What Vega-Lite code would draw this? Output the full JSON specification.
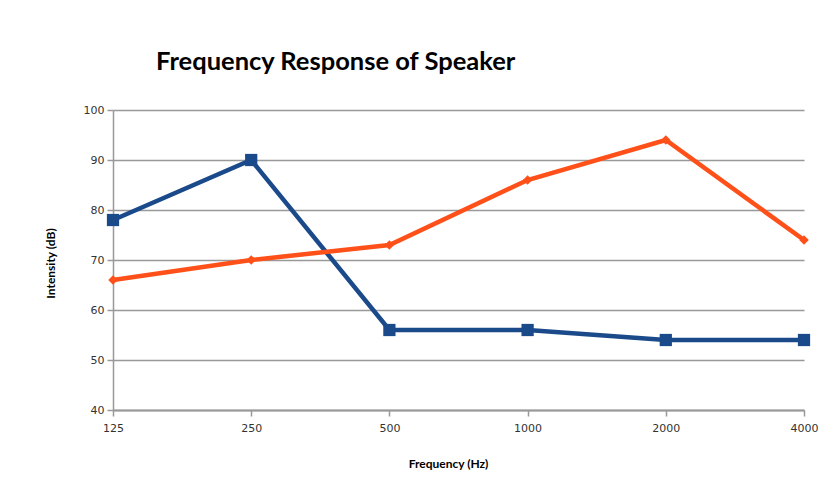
{
  "$schema": "https://vega.github.io/schema/vega-lite/v6.json",
  "width": 691,
  "height": 300,
  "autosize": {"type": "none"},
  "padding": {"left": 113, "top": 110, "right": 31, "bottom": 82},
  "background": "white",
  "title": {
    "text": "Frequency Response of Speaker",
    "anchor": "start",
    "dx": 112,
    "offset": 29,
    "font": "Lato",
    "fontSize": 25.5,
    "fontWeight": "bold",
    "color": "#000000"
  },
  "data": {
    "values": [
      {"freq": 125, "series": "A", "db": 78},
      {"freq": 250, "series": "A", "db": 90},
      {"freq": 500, "series": "A", "db": 56},
      {"freq": 1000, "series": "A", "db": 56},
      {"freq": 2000, "series": "A", "db": 54},
      {"freq": 4000, "series": "A", "db": 54},
      {"freq": 125, "series": "B", "db": 66},
      {"freq": 250, "series": "B", "db": 70},
      {"freq": 500, "series": "B", "db": 73},
      {"freq": 1000, "series": "B", "db": 86},
      {"freq": 2000, "series": "B", "db": 94},
      {"freq": 4000, "series": "B", "db": 74}
    ]
  },
  "encoding": {
    "x": {
      "field": "freq",
      "type": "ordinal",
      "scale": {"type": "point", "padding": 0},
      "axis": {
        "title": "Frequency (Hz)",
        "labelAngle": 0,
        "labelFont": "DejaVu Sans",
        "labelFontSize": 11,
        "labelColor": "#333333",
        "labelPadding": 6,
        "domainColor": "#999999",
        "domainWidth": 2,
        "tickColor": "#999999",
        "tickSize": 6,
        "tickWidth": 1.5,
        "grid": false,
        "titleFont": "Lato",
        "titleFontSize": 12,
        "titleFontWeight": "bold",
        "titleColor": "#000000",
        "titleX": 335,
        "titleY": 53,
        "titleBaseline": "middle"
      }
    },
    "y": {
      "field": "db",
      "type": "quantitative",
      "scale": {"domain": [40, 100], "nice": false, "zero": false},
      "axis": {
        "title": "Intensity (dB)",
        "values": [40, 50, 60, 70, 80, 90, 100],
        "labelFont": "DejaVu Sans",
        "labelFontSize": 11,
        "labelColor": "#333333",
        "labelPadding": 3,
        "domainColor": "#999999",
        "domainWidth": 1.5,
        "tickColor": "#999999",
        "tickSize": 6,
        "tickWidth": 1.5,
        "grid": true,
        "gridColor": "#999999",
        "gridWidth": 1.3,
        "titleFont": "Lato",
        "titleFontSize": 12,
        "titleFontWeight": "bold",
        "titleColor": "#000000",
        "titleAngle": -90,
        "titleX": -63,
        "titleY": 153,
        "titleBaseline": "middle",
        "titleAlign": "center"
      }
    },
    "color": {
      "field": "series",
      "type": "nominal",
      "scale": {"domain": ["A", "B"], "range": ["#1b4a8a", "#ff5019"]},
      "legend": null
    }
  },
  "layer": [
    {
      "mark": {"type": "line", "strokeWidth": 4.5}
    },
    {
      "mark": {"type": "point", "filled": true, "opacity": 1},
      "encoding": {
        "shape": {
          "field": "series",
          "type": "nominal",
          "scale": {"domain": ["A", "B"], "range": ["square", "diamond"]},
          "legend": null
        },
        "size": {
          "field": "series",
          "type": "nominal",
          "scale": {"domain": ["A", "B"], "range": [150, 90]},
          "legend": null
        }
      }
    }
  ],
  "config": {
    "view": {"stroke": null}
  }
}
